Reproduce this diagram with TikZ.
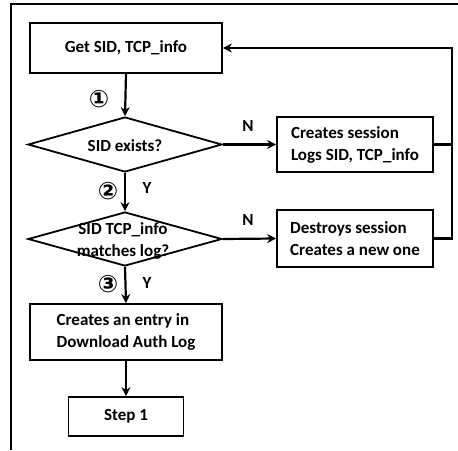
\documentclass[tikz,border=0pt]{standalone}
\usepackage{fontspec}
\setmainfont{Carlito}
\newfontfamily\circfont{DejaVu Sans}
\usetikzlibrary{shapes.geometric,arrows.meta}
\begin{document}
\begin{tikzpicture}[x=1pt,y=-1pt,
  every node/.style={font=\fontsize{17}{22}\selectfont\bfseries},
  box/.style={draw,line width=1.8pt,rectangle,inner sep=0pt,align=left},
  dia/.style={draw,line width=1.8pt,diamond,inner sep=0pt},
  conn/.style={line width=2.2pt,-{Stealth[length=9pt,width=9pt]}},
  plain/.style={line width=2.2pt},
  lbl/.style={inner sep=0pt},
  circ/.style={inner sep=0pt,font=\fontsize{24}{24}\circfont\bfseries}]
\useasboundingbox (0,0) rectangle (458,450);
% outer frame (top and left only visible)
\coordinate (fl) at (11,450);
\coordinate (ftl) at (11,4);
\coordinate (ftr) at (458,4);
\draw[line width=2pt] (fl) -- (ftl) -- (ftr);

\node[box,minimum width=192pt,minimum height=50pt] (b1) at (126,48) {Get SID, TCP\_info};
\node[dia,minimum width=194pt,minimum height=55pt] (d1) at (125,144.5) {};
\node[lbl] (t1) at (125,146) {SID exists?};
\node[box,minimum width=156pt,minimum height=55pt] (b2) at (355,144.5) {Creates session\\Logs SID, TCP\_info};
\node[dia,minimum width=194pt,minimum height=54pt] (d2) at (125,239) {};
\node[lbl,align=center] (t2) at (123,241) {SID TCP\_info\\matches log?};
\node[box,minimum width=156pt,minimum height=57pt] (b3) at (355,238.5) {Destroys session\\Creates a new one};
\node[box,minimum width=192pt,minimum height=56pt] (b4) at (126,332) {Creates an entry in\\Download Auth Log};
\node[box,minimum width=115pt,minimum height=39pt] (b5) at (126,416.5) {Step 1};

\coordinate (rt) at (452,50);

\draw[conn] (b1.south) -- (d1.north);
\draw[conn] (d1.east) -- (b2.west);
\draw[conn] (d1.south) -- (d2.north);
\draw[conn] (d2.east) -- (b3.west);
\draw[conn] (d2.south) -- (b4.north);
\draw[conn] (b4.south) -- (b5.north);
\draw[plain] (b2.east) -- (b2.east -| rt);
\draw[conn] (b3.east) -- (b3.east -| rt) |- (b1.east);

\node[circ] (c1) at (99,99) {①};
\node[circ] (c2) at (108,191) {②};
\node[circ] (c3) at (108,284) {③};
\node[lbl] (y1) at (147,188) {Y};
\node[lbl] (y2) at (147,283) {Y};
\node[lbl] (n1) at (248,126) {N};
\node[lbl] (n2) at (248,220) {N};
\end{tikzpicture}
\end{document}
